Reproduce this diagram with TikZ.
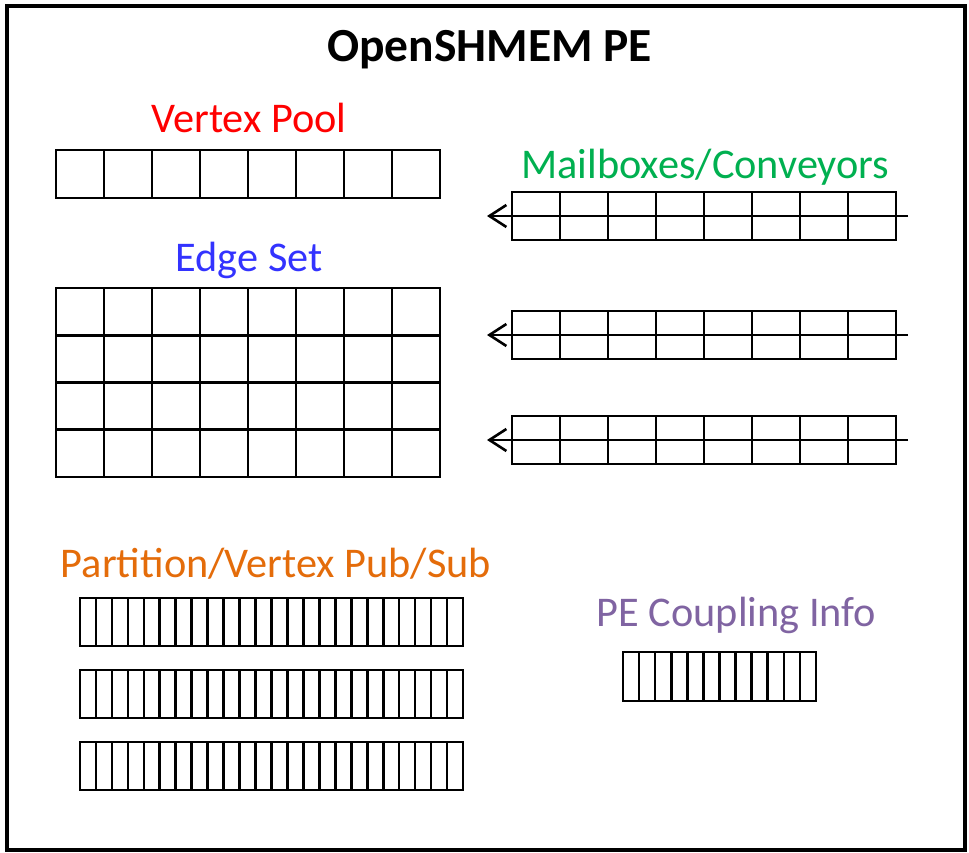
\documentclass[tikz,border=0pt]{standalone}
\usepackage{fontspec}
\setmainfont{Carlito}
\usetikzlibrary{arrows.meta}
\definecolor{vpred}{RGB}{255,0,0}
\definecolor{esblue}{RGB}{51,51,255}
\definecolor{mbgreen}{RGB}{0,176,80}
\definecolor{psorange}{RGB}{228,108,10}
\definecolor{pcpurple}{RGB}{128,100,162}
\tikzset{
  cellline/.style={draw=black,line width=2.6pt},
  frameline/.style={draw=black,line width=4.5pt},
  lbl/.style={font=\fontsize{42.3}{42.3}\selectfont,anchor=base,inner sep=0pt},
  ttl/.style={font=\bfseries\fontsize{47.5}{47.5}\selectfont,anchor=base,inner sep=0pt},
  flow/.style={draw=black,line width=2.6pt,-{Straight Barb[length=17pt,width=22pt,line width=2.6pt]}}
}
\begin{document}
\begin{tikzpicture}[x=1pt,y=-1pt]
\useasboundingbox (0,0) rectangle (969,853);
\fill[white] (0,0) rectangle (969,853);
\draw[frameline] (7,6) rectangle (965,850);
\node[ttl] (title) at (489.5,62) {OpenSHMEM PE};
% Vertex pool
\node[lbl,text=vpred] (vplabel) at (249,133) {Vertex Pool};
\draw[cellline] (56,150) rectangle (440,198);
\foreach \i in {1,...,7} \draw[cellline] (56+48*\i,150) -- (56+48*\i,198);
% Edge set
\node[lbl,text=esblue] (eslabel) at (249,271) {Edge Set};
\draw[cellline] (56,288) rectangle (440,477);
\foreach \i in {1,...,7} \draw[cellline] (56+48*\i,288) -- (56+48*\i,477);
\foreach \j in {1,2,3} \draw[cellline] (56,288+47.25*\j) -- (440,288+47.25*\j);
% Mailboxes
\node[lbl,text=mbgreen] (mblabel) at (705.5,179) {Mailboxes/Conveyors};
\foreach \y [count=\k] in {192,311,416} {
  \draw[cellline] (512,\y) rectangle (896,\y+48);
  \foreach \i in {1,...,7} \draw[cellline] (512+48*\i,\y) -- (512+48*\i,\y+48);
  \coordinate (min\k) at (908,\y+24);
  \coordinate (mout\k) at (487,\y+24);
  \draw[flow] (min\k) -- (mout\k);
}
% Pub/Sub
\node[lbl,text=psorange] (pslabel) at (276,577) {Partition/Vertex Pub/Sub};
\foreach \y in {598,670,742} {
  \draw[cellline] (80,\y) rectangle (463,\y+48);
  \foreach \i in {1,...,23} \draw[cellline] (80+15.958*\i,\y) -- (80+15.958*\i,\y+48);
}
% Coupling
\node[lbl,text=pcpurple] (pclabel) at (736.5,626) {PE Coupling Info};
\draw[cellline] (623,652) rectangle (816,701);
\foreach \i in {1,...,11} \draw[cellline] (623+16.083*\i,652) -- (623+16.083*\i,701);
\end{tikzpicture}
\end{document}
